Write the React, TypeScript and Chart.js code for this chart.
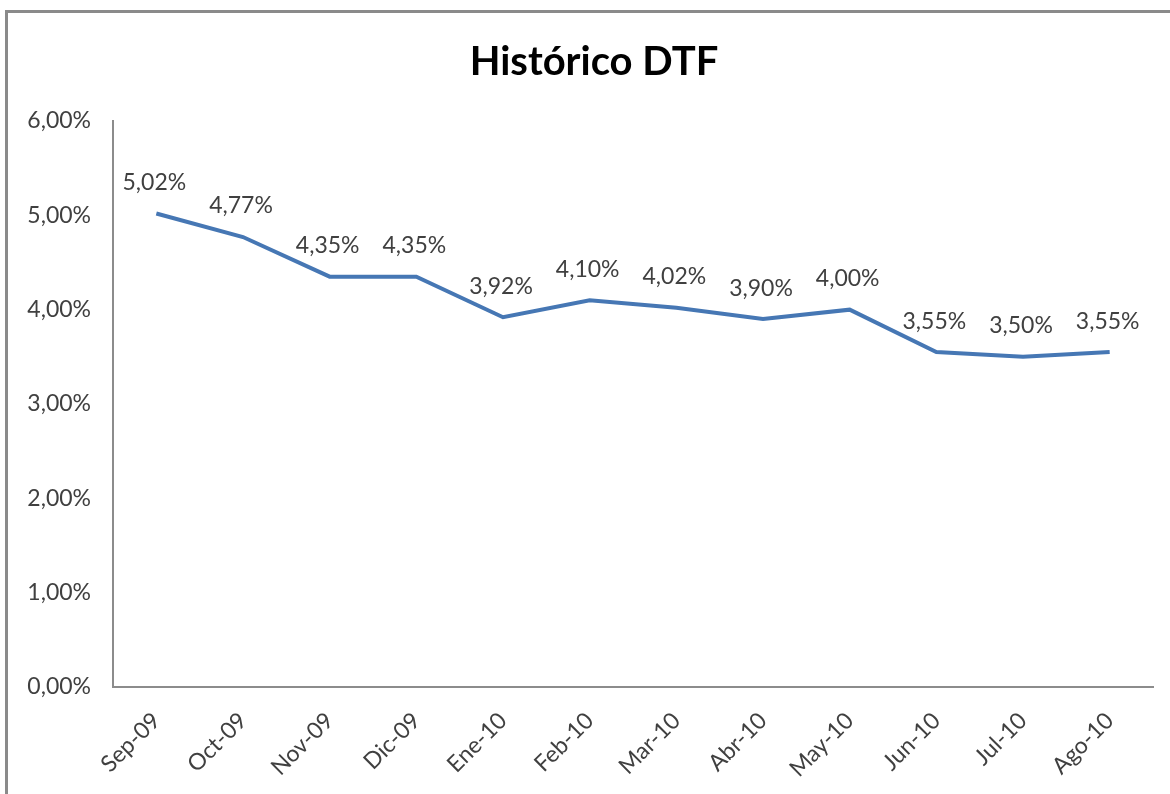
import React, { useEffect, useRef } from "react";
import { Chart, registerables } from "chart.js";

Chart.register(...registerables);

const TITLE = "Histórico DTF";
const categories = ["Sep-09", "Oct-09", "Nov-09", "Dic-09", "Ene-10", "Feb-10", "Mar-10", "Abr-10", "May-10", "Jun-10", "Jul-10", "Ago-10"];
const dtfValues = [5.02, 4.77, 4.35, 4.35, 3.92, 4.1, 4.02, 3.9, 4.0, 3.55, 3.5, 3.55];
const yTicks = [0, 1, 2, 3, 4, 5, 6];

const FONT = "Lato, 'Open Sans', sans-serif";
const fmt = (v: number) => v.toFixed(2).replace(".", ",") + "%";

const decorPlugin = {
  id: "decor",
  afterDatasetsDraw(chart: any) {
    const ctx = chart.ctx;
    ctx.save();
    ctx.fillStyle = "#404040";
    ctx.font = `23px ${FONT}`;
    ctx.textAlign = "center";
    ctx.textBaseline = "middle";
    const meta = chart.getDatasetMeta(0);
    meta.data.forEach((pt: any, i: number) => {
      ctx.fillText(fmt(dtfValues[i]), pt.x - 2, pt.y - 31);
    });
    ctx.fillStyle = "#000000";
    ctx.font = `bold 40px ${FONT}`;
    ctx.fillText(TITLE, 594, 62);
    ctx.restore();
  },
};

export default function App() {
  const ref = useRef<HTMLCanvasElement | null>(null);
  useEffect(() => {
    document.body.style.margin = "0";
    const c = new Chart(ref.current!, {
      type: "line",
      data: {
        labels: categories,
        datasets: [
          {
            data: dtfValues,
            borderColor: "#4677B4",
            borderWidth: 4,
            pointRadius: 0,
            tension: 0,
            fill: false,
          },
        ],
      },
      options: {
        animation: false,
        responsive: false,
        layout: { padding: { left: 0, top: 121, right: 17, bottom: 0 } },
        plugins: { legend: { display: false }, tooltip: { enabled: false }, title: { display: false } },
        scales: {
          x: {
            offset: true,
            grid: { display: false, drawTicks: false },
            border: { display: true, color: "#8C8C8C", width: 2 },
            ticks: {
              color: "#404040",
              font: { family: FONT, size: 23 },
              maxRotation: 45,
              minRotation: 45,
              padding: 20,
              autoSkip: false,
            },
            afterFit: (s: any) => {
              s.height = 794 - 687;
            },
          },
          y: {
            min: 0,
            max: 6,
            grid: { display: false, drawTicks: false },
            border: { display: true, color: "#8C8C8C", width: 2 },
            afterBuildTicks: (s: any) => {
              s.ticks = yTicks.map((v) => ({ value: v }));
            },
            ticks: {
              color: "#404040",
              font: { family: FONT, size: 23 },
              padding: 22,
              callback: (v: any) => fmt(Number(v)),
            },
            afterFit: (s: any) => {
              s.width = 113;
            },
          },
        },
      },
      plugins: [decorPlugin],
    });
    return () => c.destroy();
  }, []);
  return (
    <div style={{ position: "relative", width: 1170, height: 794, background: "#fff", overflow: "hidden" }}>
      <canvas ref={ref} width={1170} height={794} style={{ display: "block" }} />
      <div
        style={{
          position: "absolute",
          left: 5,
          top: 10,
          width: 1200,
          height: 820,
          border: "3px solid #8A8A8A",
          boxSizing: "border-box",
          pointerEvents: "none",
        }}
      />
    </div>
  );
}
